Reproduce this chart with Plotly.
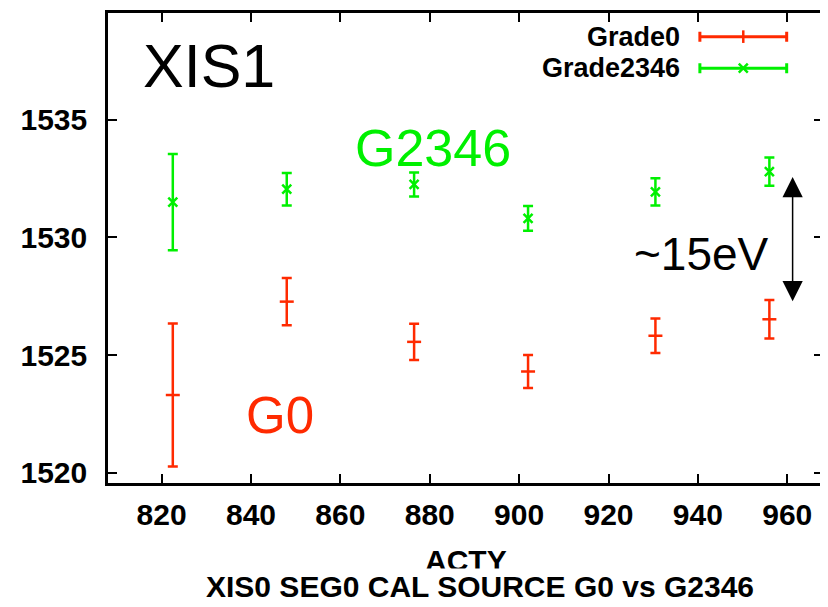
import plotly.graph_objects as go

# ---- data ----
acty = [822.5, 848.0, 876.5, 902.0, 930.5, 956.0]
grade0 = [1523.3, 1527.27, 1525.56, 1524.3, 1525.82, 1526.52]
grade0_err = [3.04, 1.0, 0.77, 0.70, 0.73, 0.82]
grade2346 = [1531.5, 1532.05, 1532.25, 1530.81, 1531.94, 1532.8]
grade2346_err = [2.05, 0.69, 0.51, 0.53, 0.58, 0.6]

x_ticks = [820, 840, 860, 880, 900, 920, 940, 960]
y_ticks = [1520, 1525, 1530, 1535]
series_names = ["Grade0", "Grade2346"]

RED = "#ff2a00"
GREEN = "#00f000"
FONT = "Liberation Sans, Arial, Helvetica, sans-serif"

fig = go.Figure()

fig.add_trace(go.Scatter(
    x=acty, y=grade0, mode="markers", name=series_names[0], showlegend=False,
    marker=dict(symbol="line-ew", size=10, color=RED, line=dict(color=RED, width=2.5)),
    error_y=dict(type="data", array=grade0_err, visible=True, color=RED, thickness=2.5, width=5),
))
fig.add_trace(go.Scatter(
    x=acty, y=grade2346, mode="markers", name=series_names[1], showlegend=False,
    marker=dict(symbol="x-thin", size=9, color=GREEN, line=dict(color=GREEN, width=2.5)),
    error_y=dict(type="data", array=grade2346_err, visible=True, color=GREEN, thickness=2.5, width=5),
))

# legend keys drawn on a hidden overlay axis (0..1 in both directions)
key_y = [0.9497, 0.8827]
fig.add_trace(go.Scatter(
    x=[0.8885], y=[key_y[0]], xaxis="x2", yaxis="y2", mode="markers", showlegend=False,
    hoverinfo="skip",
    marker=dict(symbol="line-ns", size=9, color=RED, line=dict(color=RED, width=2.5)),
    error_x=dict(type="data", array=[0.0607], visible=True, color=RED, thickness=3, width=5),
))
fig.add_trace(go.Scatter(
    x=[0.8885], y=[key_y[1]], xaxis="x2", yaxis="y2", mode="markers", showlegend=False,
    hoverinfo="skip",
    marker=dict(symbol="x-thin", size=9, color=GREEN, line=dict(color=GREEN, width=2.5)),
    error_x=dict(type="data", array=[0.0607], visible=True, color=GREEN, thickness=3, width=5),
))

axis_common = dict(
    showline=True, linecolor="black", linewidth=2.5, mirror="ticks",
    ticks="inside", ticklen=9, tickwidth=2, tickcolor="black",
    showgrid=False, zeroline=False,
    tickfont=dict(family=FONT, size=30, color="black", weight="bold"),
)

# the page body adds an 8px offset, so the figure is drawn 8px smaller and shifted
fig.update_layout(
    width=820, height=599,
    margin=dict(l=100, r=5, t=2, b=124),
    paper_bgcolor="white", plot_bgcolor="white",
    showlegend=False,
    xaxis=dict(range=[808, 968], tickvals=x_ticks, ticklabelstandoff=3, **axis_common),
    yaxis=dict(range=[1519.56, 1539.54], tickvals=y_ticks, ticklabelstandoff=12, **axis_common),
    xaxis2=dict(range=[0, 1], overlaying="x", visible=False),
    yaxis2=dict(range=[0, 1], overlaying="y", visible=False),
)

annotations = [
    dict(x=830.6, y=1537.3, xref="x", yref="y", text="XIS1", showarrow=False,
         font=dict(family=FONT, size=61, color="black")),
    dict(x=880.7, y=1533.8, xref="x", yref="y", text="G2346", showarrow=False,
         font=dict(family=FONT, size=52, color=GREEN)),
    dict(x=846.6, y=1522.45, xref="x", yref="y", text="G0", showarrow=False,
         font=dict(family=FONT, size=51, color=RED)),
    dict(x=940.9, y=1529.28, xref="x", yref="y", text="~15eV", showarrow=False,
         font=dict(family=FONT, size=46, color="black")),
    # double-headed arrow
    dict(x=961.2, y=1527.29, ax=961.2, ay=1532.63, xref="x", yref="y", axref="x", ayref="y",
         text="", showarrow=True, arrowside="end+start", arrowhead=2, startarrowhead=2,
         arrowsize=2.7, startarrowsize=2.7, arrowwidth=1.5, arrowcolor="black",
         standoff=0, startstandoff=0),
    # legend texts
    dict(x=0.8031, y=key_y[0], xref="paper", yref="paper", xanchor="right", yanchor="middle",
         text="Grade0", showarrow=False, font=dict(family=FONT, size=27, color="black", weight="bold")),
    dict(x=0.8031, y=key_y[1], xref="paper", yref="paper", xanchor="right", yanchor="middle",
         text="Grade2346", showarrow=False, font=dict(family=FONT, size=27, color="black", weight="bold")),
    # axis title and caption
    dict(x=0.501, y=-0.1655, xref="paper", yref="paper", xanchor="center", yanchor="middle",
         text="ACTY", showarrow=False, font=dict(family=FONT, size=30, color="black", weight="bold")),
    dict(x=0.52, y=-0.2194, xref="paper", yref="paper", xanchor="center", yanchor="middle",
         text="XIS0 SEG0 CAL SOURCE G0 vs G2346", showarrow=False, bgcolor="white",
         font=dict(family=FONT, size=30, color="black", weight="bold")),
]
fig.update_layout(annotations=annotations)

fig.write_html("out.html")
